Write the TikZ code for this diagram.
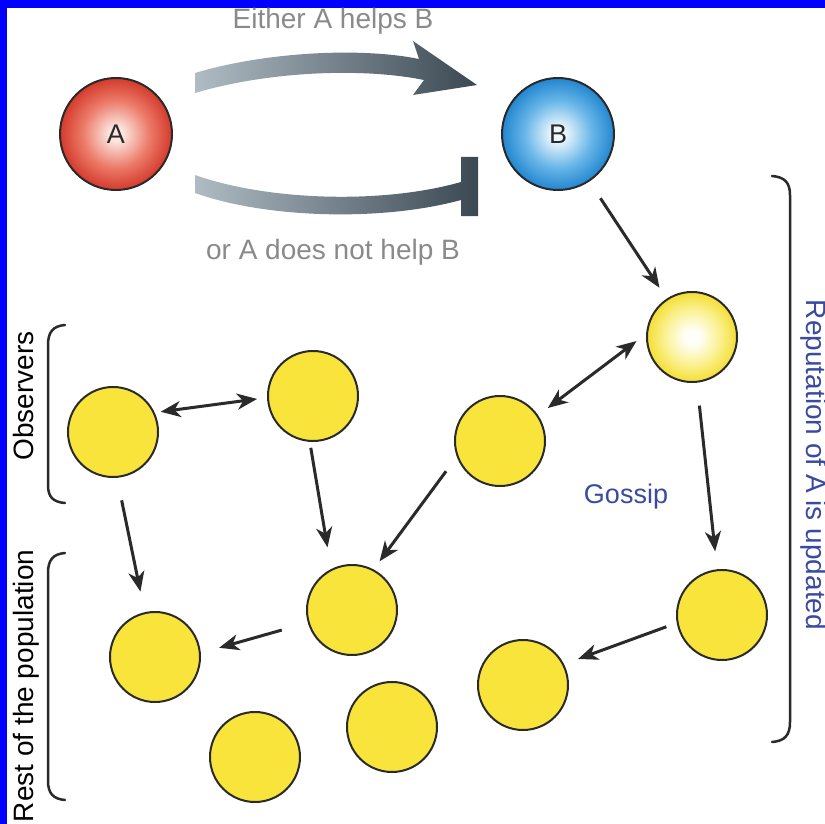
\documentclass[tikz,border=0pt]{standalone}
\usepackage{fontspec}
\setmainfont{Liberation Sans}
\usetikzlibrary{arrows.meta}

\definecolor{edge}{RGB}{42,42,42}
\definecolor{yel}{RGB}{248,228,58}
\definecolor{Aout}{RGB}{212,58,44}
\definecolor{Amid}{RGB}{236,122,104}
\definecolor{Acen}{RGB}{252,230,224}
\definecolor{Bout}{RGB}{34,134,208}
\definecolor{Bmid}{RGB}{104,182,232}
\definecolor{Bcen}{RGB}{238,247,253}
\definecolor{Gout}{RGB}{244,222,52}
\definecolor{Gmid}{RGB}{250,240,140}
\definecolor{Gcen}{RGB}{255,255,250}
\definecolor{bandL}{RGB}{176,188,196}
\definecolor{bandR}{RGB}{58,72,82}
\definecolor{txtgray}{RGB}{138,138,138}
\definecolor{txtblue}{RGB}{58,74,160}
\definecolor{frameblue}{RGB}{0,0,255}

% radial fills: the node's rim sits at 25bp of the shading
\pgfdeclareradialshading{ballA}{\pgfpoint{0bp}{0bp}}{color(0bp)=(Acen); color(3bp)=(Acen); color(15bp)=(Amid); color(25bp)=(Aout); color(50bp)=(Aout)}
\pgfdeclareradialshading{ballB}{\pgfpoint{0bp}{0bp}}{color(0bp)=(Bcen); color(3bp)=(Bcen); color(15bp)=(Bmid); color(25bp)=(Bout); color(50bp)=(Bout)}
\pgfdeclareradialshading{ballG}{\pgfpoint{0bp}{0bp}}{color(0bp)=(Gcen); color(4bp)=(Gcen); color(16bp)=(Gmid); color(25bp)=(Gout); color(50bp)=(Gout)}

\tikzset{
  agent/.style={circle, draw=edge, line width=2pt, inner sep=0pt, minimum size=112pt,
                font=\fontsize{27}{31}\selectfont, text=edge},
  person/.style={circle, draw=edge, line width=2pt, inner sep=0pt, minimum size=90pt, fill=yel},
  arr/.style={draw=edge, line width=3pt, -{Stealth[length=20pt,width=16pt,inset=6pt]}},
  arrboth/.style={draw=edge, line width=3pt, {Stealth[length=20pt,width=16pt,inset=6pt]}-{Stealth[length=20pt,width=16pt,inset=6pt]}},
  brk/.style={draw=edge, line width=2.5pt, line cap=round},
  lbl/.style={font=\fontsize{28}{32}\selectfont},
}

\begin{document}
\begin{tikzpicture}[x=1pt, y=-1pt]
  \useasboundingbox (0,0) rectangle (825,824);
  \fill[white] (0,0) rectangle (825,824);
  % frame bars
  \fill[frameblue] (0,0) rectangle (825,8);
  \fill[frameblue] (0,0) rectangle (7,824);

  % broad arrows between A and B
  \shade[left color=bandL, right color=bandR]
    (195,73) .. controls (265,52) and (360,47) .. (419,59) -- (413,41) -- (477,85)
    -- (413,95) -- (424,80) .. controls (360,67) and (265,72) .. (195,93) -- cycle;
  \shade[left color=bandL, right color=bandR]
    (195,175) .. controls (265,200) and (380,205) .. (461,182) -- (461,157) -- (478,157)
    -- (478,216) -- (461,216) -- (461,200) .. controls (380,222) and (265,218) .. (195,193) -- cycle;

  \node[lbl, text=txtgray, anchor=base] (help) at (333,29) {Either A helps B};
  \node[lbl, text=txtgray, anchor=base] (nohelp) at (333,259) {or A does not help B};

  % donor, recipient and observers
  \node[agent, shading=ballA] (A) at (116,134) {A};
  \node[agent, shading=ballB] (B) at (558,134) {B};
  \node[person, shading=ballG] (G) at (692,337) {};
  \node[person] (O1) at (113,432) {};
  \node[person] (O2) at (313,396) {};
  \node[person] (M1) at (500,441) {};
  \node[person] (R1) at (352,610) {};
  \node[person] (R2) at (155,657) {};
  \node[person] (R3) at (255,757) {};
  \node[person] (R4) at (392,727) {};
  \node[person] (R5) at (523,685) {};
  \node[person] (R6) at (722,615) {};

  % spreading of the news
  \draw[arr, shorten <=20pt, shorten >=13pt] (B) -- (G);
  \draw[arrboth, shorten <=12pt, shorten >=12pt] (G.176) -- (M1.34);
  \draw[arr, shorten <=23pt, shorten >=18pt] (G) -- (R6);
  \draw[arr, shorten <=18pt, shorten >=10pt] (M1.200) -- (R1.62);
  \draw[arrboth, shorten <=6pt, shorten >=10pt] (O1.25) -- (O2.182);
  \draw[arr, shorten <=6pt, shorten >=22pt] (O2.266) -- (R1.117);
  \draw[arr, shorten <=23pt, shorten >=21pt] (O1.275) -- (R2.103);
  \draw[arr, shorten <=27pt, shorten >=19pt] (R1.196) -- (R2.5);
  \draw[arr, shorten <=11pt, shorten >=15pt] (R6.190) -- (R5.27);

  \node[lbl, text=txtblue, font=\fontsize{27}{31}\selectfont] (gossip) at (626,497) {Gossip};

  % group brackets
  \draw[brk] (65,325) .. controls (53,326) and (48,332) .. (48,345) -- (48,485)
             .. controls (48,497) and (53,502) .. (65,503);
  \draw[brk] (65,553) .. controls (53,554) and (48,560) .. (48,573) -- (48,781)
             .. controls (48,793) and (53,799) .. (65,800);
  \draw[brk] (772,176) .. controls (785,177) and (790,183) .. (790,195) -- (790,722)
             .. controls (790,735) and (785,741) .. (772,742);

  \node[lbl, rotate=90, anchor=base] (obs) at (33,396) {Observers};
  \node[lbl, rotate=90, anchor=base] (rest) at (33,686) {Rest of the population};
  \node[lbl, text=txtblue, rotate=-90, anchor=base] (rep) at (806,465) {Reputation of A is updated};
\end{tikzpicture}
\end{document}
